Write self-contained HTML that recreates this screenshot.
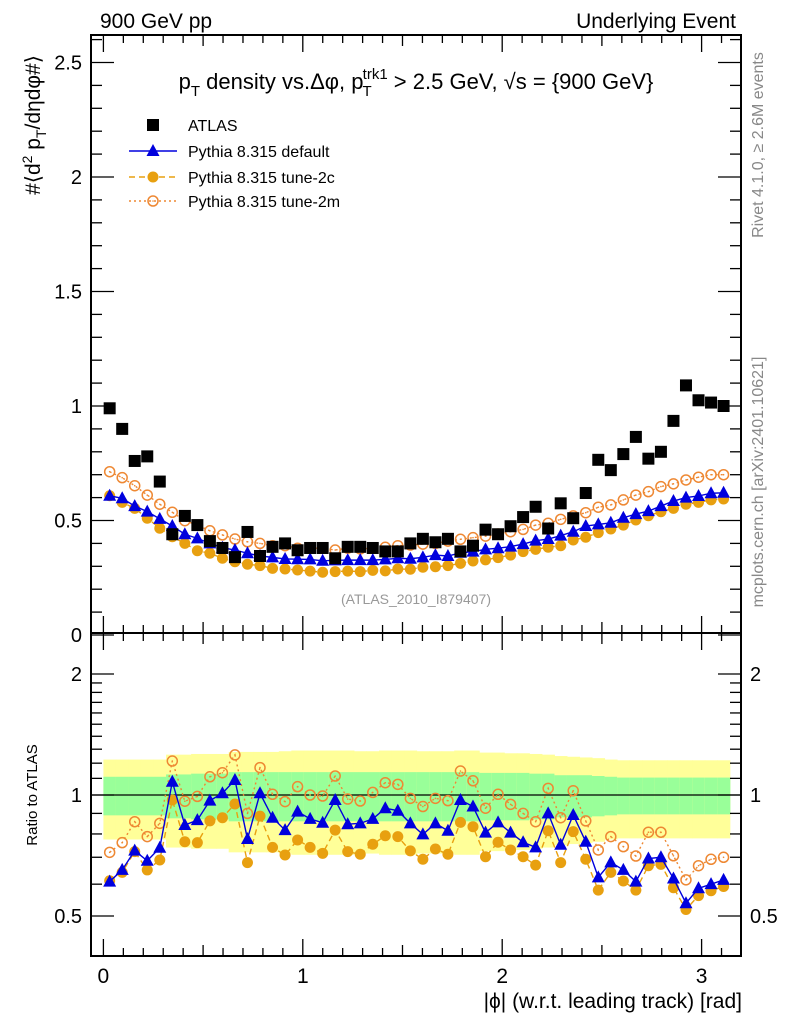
<!DOCTYPE html>
<html><head><meta charset="utf-8"><style>
html,body{margin:0;padding:0;background:#fff;}
svg{display:block;font-family:"Liberation Sans",sans-serif;}
</style></head><body>
<svg id="chart" xmlns="http://www.w3.org/2000/svg" width="786" height="1024" viewBox="0 0 786 1024">
<g id="bands"></g>
<g id="grid"></g>
<g id="marks"></g>
<text x="100" y="28" font-size="21">900 GeV pp</text>
<text x="736" y="28" font-size="21" text-anchor="end">Underlying Event</text>
<text x="416" y="89" font-size="22" text-anchor="middle">p<tspan font-size="15" dy="7">T</tspan><tspan dy="-7"> density vs.Δφ, p</tspan><tspan font-size="15" dy="7" dx="-1">T</tspan><tspan font-size="15" dy="-17" dx="-9">trk1</tspan><tspan dy="10"> &gt; 2.5 GeV, √s = {900 GeV}</tspan></text>
<text transform="translate(40,125) rotate(-90)" font-size="21" text-anchor="middle">#⟨d<tspan font-size="14" dy="-8">2</tspan><tspan dy="8"> p</tspan><tspan font-size="14" dy="6">T</tspan><tspan dy="-6">/dηdφ#⟩</tspan></text>
<text transform="translate(37,795) rotate(-90)" font-size="15" text-anchor="middle">Ratio to ATLAS</text>
<text transform="translate(763,145) rotate(-90)" font-size="16" fill="#888" text-anchor="middle">Rivet 4.1.0, ≥ 2.6M events</text>
<text transform="translate(763,482) rotate(-90)" font-size="16" fill="#888" text-anchor="middle">mcplots.cern.ch [arXiv:2401.10621]</text>
<text x="416" y="604" font-size="14" fill="#999" text-anchor="middle">(ATLAS_2010_I879407)</text>
<text x="742" y="1008" font-size="21" text-anchor="end">|ϕ| (w.r.t. leading track) [rad]</text>
<g id="legend"></g>
</svg>
<script>
const atlas=[0.99,0.90,0.76,0.78,0.67,0.44,0.52,0.48,0.41,0.38,0.34,0.45,0.345,0.385,0.40,0.37,0.38,0.38,0.335,0.385,0.385,0.38,0.365,0.365,0.40,0.42,0.405,0.42,0.365,0.39,0.46,0.44,0.475,0.515,0.56,0.465,0.575,0.51,0.62,0.765,0.72,0.79,0.865,0.77,0.80,0.935,1.09,1.025,1.015,1.00];
const pyDefault=[0.608,0.597,0.563,0.539,0.507,0.476,0.44,0.422,0.40,0.381,0.371,0.357,0.345,0.339,0.332,0.331,0.330,0.324,0.326,0.327,0.327,0.327,0.330,0.335,0.333,0.339,0.349,0.345,0.359,0.364,0.374,0.379,0.386,0.397,0.412,0.419,0.434,0.451,0.476,0.483,0.49,0.512,0.528,0.541,0.563,0.585,0.60,0.607,0.619,0.621];
const py2c=[0.608,0.579,0.553,0.51,0.466,0.429,0.40,0.368,0.357,0.335,0.32,0.309,0.303,0.291,0.288,0.284,0.279,0.274,0.277,0.279,0.277,0.282,0.280,0.288,0.287,0.296,0.298,0.303,0.313,0.323,0.328,0.338,0.349,0.364,0.374,0.383,0.39,0.415,0.427,0.447,0.463,0.48,0.502,0.521,0.538,0.553,0.571,0.579,0.59,0.594];
const py2m=[0.713,0.687,0.652,0.611,0.571,0.536,0.499,0.48,0.455,0.437,0.419,0.407,0.40,0.39,0.39,0.379,0.379,0.379,0.371,0.379,0.376,0.379,0.383,0.39,0.393,0.397,0.40,0.41,0.418,0.425,0.432,0.441,0.451,0.461,0.48,0.488,0.505,0.52,0.534,0.558,0.568,0.59,0.611,0.626,0.648,0.66,0.677,0.689,0.70,0.70];
const rDefault=[0.609,0.651,0.727,0.686,0.739,1.079,0.842,0.866,0.968,1.01,1.09,0.777,1.01,0.878,0.818,0.909,0.872,0.853,0.972,0.846,0.85,0.872,0.927,0.914,0.85,0.798,0.85,0.815,0.972,0.936,0.806,0.855,0.806,0.763,0.741,0.90,0.752,0.892,0.765,0.624,0.68,0.651,0.609,0.695,0.70,0.62,0.538,0.586,0.60,0.615];
const r2c=[0.612,0.642,0.723,0.651,0.689,0.972,0.765,0.761,0.862,0.878,0.95,0.679,0.886,0.741,0.709,0.773,0.741,0.716,0.818,0.723,0.712,0.754,0.792,0.788,0.726,0.692,0.734,0.712,0.855,0.834,0.702,0.763,0.730,0.702,0.669,0.815,0.679,0.811,0.692,0.580,0.642,0.611,0.580,0.667,0.672,0.588,0.519,0.562,0.578,0.592];
const r2m=[0.720,0.761,0.858,0.788,0.85,1.215,0.965,0.992,1.11,1.136,1.258,0.90,1.17,1.004,0.963,1.049,1.0,0.994,1.115,0.977,0.966,1.015,1.073,1.063,0.981,0.936,0.981,0.968,1.147,1.085,0.927,1.004,0.948,0.90,0.858,1.039,0.878,1.025,0.862,0.730,0.788,0.744,0.705,0.808,0.808,0.706,0.615,0.667,0.692,0.70];
const errGreen=[0.11,0.11,0.11,0.11,0.11,0.125,0.125,0.13,0.13,0.13,0.14,0.14,0.14,0.14,0.14,0.14,0.14,0.14,0.14,0.14,0.14,0.14,0.14,0.14,0.14,0.14,0.14,0.14,0.14,0.14,0.135,0.135,0.135,0.135,0.13,0.13,0.12,0.12,0.12,0.115,0.11,0.105,0.105,0.105,0.105,0.105,0.105,0.105,0.105,0.105];
const errYellow=[0.225,0.225,0.225,0.225,0.225,0.26,0.26,0.265,0.265,0.265,0.28,0.28,0.28,0.28,0.285,0.29,0.29,0.29,0.29,0.29,0.285,0.285,0.29,0.29,0.29,0.285,0.285,0.285,0.29,0.29,0.275,0.275,0.27,0.27,0.265,0.26,0.25,0.245,0.24,0.235,0.225,0.22,0.22,0.22,0.22,0.22,0.22,0.22,0.22,0.22];
const xTicks=[0,1,2,3];
const yTicks=[0,0.5,1,1.5,2,2.5];
const rTicks=[0.5,1,2];

const NS="http://www.w3.org/2000/svg";
const L=91,R=741,T=35,MB=633,RB=956;
const xs=v=>103.4+199.4*v;
const ym=v=>635-229*v;
const yr=r=>795-121*Math.log2(r);
const nb=atlas.length, bw=Math.PI/nb;
const xc=i=>xs((i+0.5)*bw);
function mk(tag,attrs,parent){const e=document.createElementNS(NS,tag);for(const k in attrs)e.setAttribute(k,attrs[k]);parent.appendChild(e);return e;}
const bands=document.getElementById('bands'),grid=document.getElementById('grid'),marks=document.getElementById('marks'),leg=document.getElementById('legend');

for(let i=0;i<nb;i++){
  const x0=xs(i*bw),x1=xs((i+1)*bw);
  const y=mk('rect',{x:x0,y:yr(1+errYellow[i]),width:x1-x0+0.5,height:yr(1-errYellow[i])-yr(1+errYellow[i]),fill:'#ffff99'},bands);
  
  
  const g=mk('rect',{x:x0,y:yr(1+errGreen[i]),width:x1-x0+0.5,height:yr(1-errGreen[i])-yr(1+errGreen[i]),fill:'#99ff99'},bands);
  
  
}
const ref=mk('line',{x1:L,x2:R,y1:yr(1),y2:yr(1),stroke:'#000','stroke-width':1.3},bands);



const f1=mk('rect',{x:L,y:T,width:R-L,height:MB-T,fill:'none',stroke:'#000','stroke-width':2},grid);


const f2=mk('rect',{x:L,y:MB,width:R-L,height:RB-MB,fill:'none',stroke:'#000','stroke-width':2},grid);


function tick(x1,y1,x2,y2){const t=mk('line',{x1,y1,x2,y2,stroke:'#000','stroke-width':1.3},grid);}
for(let k=0;k<=32;k++){const v=k/10;const x=xs(v);if(x>R-1)break;const len=k%10==0?17:(k%5==0?11:8);
  tick(x,MB,x,MB-len);tick(x,T,x,T+len);tick(x,RB,x,RB-len);tick(x,MB,x,MB+len);}
for(let k=0;k<=26;k++){const v=k/10;const y=ym(v);if(y<T)break;const len=k%5==0?23:11;tick(L,y,L+len,y);tick(R,y,R-len,y);}
const rt=[0.5,0.6,0.7,0.8,0.9,1,1.1,1.2,1.3,1.4,1.5,1.6,1.7,1.8,1.9,2];
rt.forEach(r=>{const y=yr(r);if(y<MB||y>RB-2)return;const len=rTicks.includes(r)?23:11;tick(L,y,L+len,y);tick(R,y,R-len,y);});
xTicks.forEach(v=>{const t=mk('text',{x:xs(v),y:983,'font-size':21,'text-anchor':'middle'},grid);t.textContent=v;});
yTicks.forEach(v=>{const t=mk('text',{x:82,y:ym(v)+7,'font-size':20,'text-anchor':'end'},grid);t.textContent=v;});
rTicks.forEach(v=>{const a=mk('text',{x:82,y:yr(v)+7,'font-size':20,'text-anchor':'end'},grid);a.textContent=v;
  const b=mk('text',{x:750,y:yr(v)+7,'font-size':20},grid);b.textContent=v;});

function marker(type,x,y,col,parent){
  let e;
  if(type==='sq'){e=mk('rect',{x:x-6,y:y-6,width:12,height:12,fill:'#000'},parent);}
  else if(type==='tri'){e=mk('polygon',{points:`${x},${y-7} ${x-6.5},${y+5} ${x+6.5},${y+5}`,fill:col},parent);}
  else if(type==='dot'){e=mk('circle',{cx:x,cy:y,r:5.5,fill:col},parent);}
  else {e=mk('circle',{cx:x,cy:y,r:5,fill:'none',stroke:col,'stroke-width':1.5},parent);mk('circle',{cx:x,cy:y,r:0.8,fill:col},parent);}
  return e;
}
function series(vals,yf,type,col,dash,name,line){
  const g=mk('g',{},marks);
  
  
  if(line){const p=mk('polyline',{points:vals.map((v,i)=>xc(i)+','+yf(v)).join(' '),fill:'none',stroke:col,'stroke-width':1.4,'stroke-dasharray':dash},g);
    }
  vals.forEach((v,i)=>{const m=marker(type,xc(i),yf(v),col,g);});
}
const BLUE='#0000dd',OR='#e8a010',OR2='#ee8833';
series(py2m,ym,'ring',OR2,'2,3','tune-2m-main',true);
series(py2c,ym,'dot',OR,'6,4','tune-2c-main',true);
series(pyDefault,ym,'tri',BLUE,'','default-main',true);
series(atlas,ym,'sq','#000','','atlas-data',false);
series(r2m,yr,'ring',OR2,'2,3','tune-2m-ratio',true);
series(r2c,yr,'dot',OR,'6,4','tune-2c-ratio',true);
series(rDefault,yr,'tri',BLUE,'','default-ratio',true);

const entries=[['ATLAS','sq','#000','',false,125],['Pythia 8.315 default','tri',BLUE,'',true,151],['Pythia 8.315 tune-2c','dot',OR,'6,4',true,177],['Pythia 8.315 tune-2m','ring',OR2,'2,3',true,201]];
entries.forEach(e=>{const g=mk('g',{},leg);
  if(e[4])mk('line',{x1:129,x2:177,y1:e[5],y2:e[5],stroke:e[2],'stroke-width':1.4,'stroke-dasharray':e[3]},g);
  marker(e[1],153,e[5],e[2],g);
  const t=mk('text',{x:188,y:e[5]+6,'font-size':16},g);t.textContent=e[0];});
</script>
</body></html>
